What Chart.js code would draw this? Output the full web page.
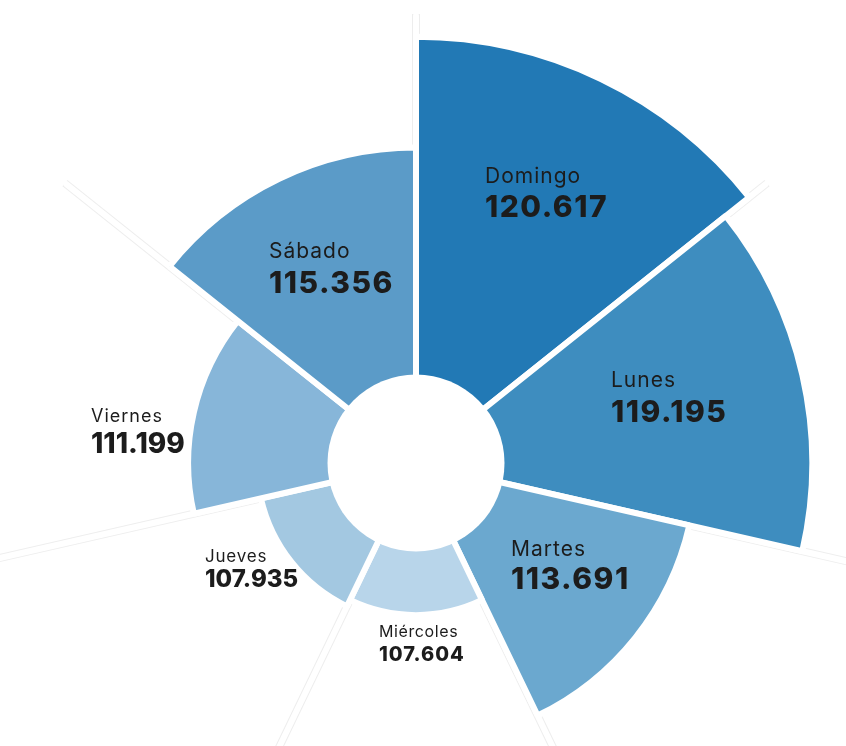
<!DOCTYPE html>
<html lang="es">
<head>
<meta charset="utf-8">
<title>Días de la semana</title>
<script src="https://cdn.jsdelivr.net/npm/chart.js@4.4.1/dist/chart.umd.min.js"></script>
<style>
  html, body { margin:0; padding:0; background:#fff; overflow:hidden; width:846px; height:746px; }
  /* lienzo mayor que la ventana: el centro del gráfico queda en (416,463) */
  #dias { position:absolute; left:-33px; top:14px; }
</style>
</head>
<body>
<canvas id="dias" width="898" height="898"></canvas>
<script>
/* ====== Datos ====== */
const DIAS = ["Domingo","Lunes","Martes","Miércoles","Jueves","Viernes","Sábado"];
const VALORES = [120.617, 119.195, 113.691, 107.604, 107.935, 111.199, 115.356];
const COLORES = ["#2279b5","#3e8dbf","#6ba8cf","#b8d5ea","#a3c8e1","#87b6d9","#5b9bc8"];

/* ====== Etiquetas: desplazamiento desde el centro, tamaños y espaciado ====== */
const ETQ_X     = [69, 195, 95, -37, -211, -325, -147];
const ETQ_Y_DIA = [-280, -76, 93, 174, 99, -41, -205];
const ETQ_Y_VAL = [-246, -41, 126, 198, 124, -10, -170];
const FS_DIA    = [21, 21, 21, 16, 17, 18, 21];
const FS_VAL    = [30, 30, 30, 20, 24, 28, 30];
const ESP_DIA   = [1, 1, 1, 0.6, 0.8, 1, 1];
const ESP_VAL   = [1.5, 1.5, 1.5, 1, 0, 0, 1.5];

const HUECO = 88.5;   // radio del círculo blanco central
const fmt = v => v.toFixed(3);

/* separadores: línea blanca encima de la gris del eje */
const separadores = {
  id:'separadores',
  beforeDatasetsDraw(chart){
    const s = chart.scales.r, ctx = chart.ctx;
    ctx.save();
    ctx.strokeStyle = '#fff';
    ctx.lineWidth = 6;
    ctx.lineCap = 'round';
    DIAS.forEach((_,i)=>{
      const p = s.getPointPosition(i, s.drawingArea - 2);
      ctx.beginPath();
      ctx.moveTo(s.xCenter, s.yCenter);
      ctx.lineTo(p.x, p.y);
      ctx.stroke();
    });
    ctx.restore();
  }
};

/* hueco central + textos */
const rotulos = {
  id:'rotulos',
  afterDatasetsDraw(chart){
    const s = chart.scales.r, ctx = chart.ctx;
    ctx.save();
    ctx.fillStyle = '#fff';
    ctx.beginPath();
    ctx.arc(s.xCenter, s.yCenter, HUECO, 0, Math.PI*2);
    ctx.fill();

    ctx.fillStyle = '#1c1c1c';
    ctx.textAlign = 'left';
    ctx.textBaseline = 'alphabetic';
    DIAS.forEach((d,i)=>{
      const x = s.xCenter + ETQ_X[i];
      ctx.letterSpacing = ESP_DIA[i] + 'px';
      ctx.font = `400 ${FS_DIA[i]}px Inter, "Noto Sans", sans-serif`;
      ctx.fillText(d, x, s.yCenter + ETQ_Y_DIA[i]);
      ctx.letterSpacing = ESP_VAL[i] + 'px';
      ctx.font = `800 ${FS_VAL[i]}px Inter, "Noto Sans", sans-serif`;
      ctx.fillText(fmt(VALORES[i]), x, s.yCenter + ETQ_Y_VAL[i]);
    });
    ctx.restore();
  }
};

new Chart(document.getElementById('dias'), {
  type:'polarArea',
  data:{
    labels: DIAS,
    datasets:[{
      data: VALORES,
      backgroundColor: COLORES,
      borderColor:'#fff',
      borderWidth:6
    }]
  },
  options:{
    responsive:false,
    animation:false,
    layout:{padding:0},
    plugins:{legend:{display:false}, tooltip:{enabled:false}},
    scales:{
      r:{
        min:100.38,
        max:121.7,
        startAngle:0,
        ticks:{display:false},
        grid:{display:false},
        pointLabels:{display:false},
        angleLines:{display:true, color:'rgba(0,0,0,0.07)', lineWidth:8}
      }
    }
  },
  plugins:[separadores, rotulos]
});
</script>
</body>
</html>
